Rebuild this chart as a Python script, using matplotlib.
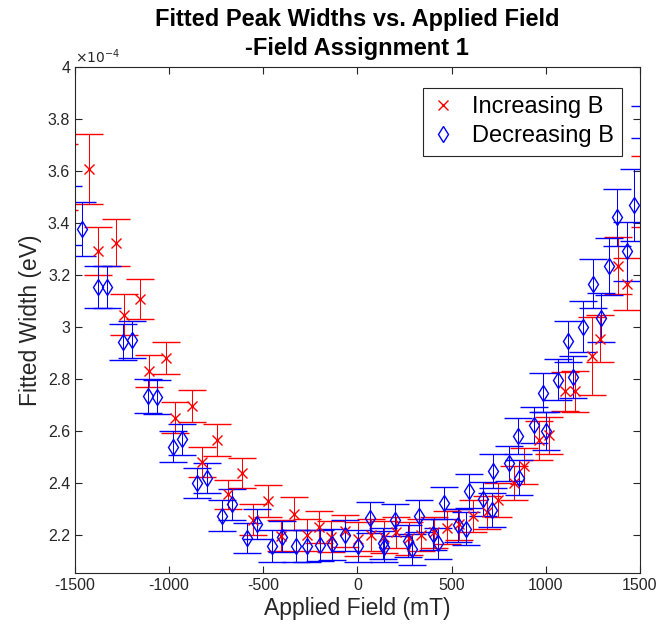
import matplotlib
matplotlib.use("Agg")
import matplotlib.pyplot as plt
from matplotlib.lines import Line2D
from matplotlib.ticker import FuncFormatter

plt.rcParams['font.family'] = ['Liberation Sans', 'DejaVu Sans']
plt.rcParams['axes.unicode_minus'] = False

# Increasing B  (widths in units of 1e-4 eV)
inc_field = [-1557, -1424, -1380, -1284, -1238, -1155, -1106, -1017, -969, -877,
             -827, -744, -686, -612, -553, -477, -406, -337, -270, -203,
             -139, -64, 4, 70, 141, 204, 275, 337, 406, 474,
             540, 615, 689, 748, 833, 884, 966, 1019, 1102, 1155,
             1244, 1288, 1382, 1430, 1530]
inc_width = [3.578, 3.609, 3.291, 3.325, 3.047, 3.108, 2.829, 2.881, 2.650, 2.695,
             2.479, 2.563, 2.355, 2.438, 2.258, 2.329, 2.196, 2.281, 2.197, 2.229,
             2.192, 2.214, 2.182, 2.197, 2.192, 2.208, 2.185, 2.197, 2.208, 2.227,
             2.240, 2.272, 2.285, 2.333, 2.400, 2.464, 2.564, 2.582, 2.752, 2.752,
             2.887, 2.954, 3.236, 3.167, 3.520]
inc_err = [0.127, 0.136, 0.092, 0.090, 0.078, 0.077, 0.062, 0.062, 0.060, 0.060,
           0.058, 0.062, 0.055, 0.058, 0.058, 0.062, 0.060, 0.064, 0.062, 0.062,
           0.060, 0.062, 0.065, 0.062, 0.062, 0.060, 0.062, 0.062, 0.060, 0.062,
           0.060, 0.062, 0.062, 0.065, 0.065, 0.070, 0.075, 0.070, 0.075, 0.080,
           0.150, 0.090, 0.110, 0.100, 0.137]

# Decreasing B
dec_field = [-1535, -1465, -1376, -1329, -1244, -1196, -1111, -1063, -978, -934,
             -854, -801, -721, -668, -588, -535, -456, -403, -327, -267,
             -199, -137, -64, 1, 66, 134, 142, 199, 270, 288,
             327, 403, 429, 461, 536, 576, 590, 668, 716, 721,
             805, 858, 854, 937, 1001, 983, 1063, 1143, 1116, 1199,
             1249, 1292, 1336, 1377, 1430, 1470, 1530]
dec_width = [3.430, 3.378, 3.154, 3.154, 2.941, 2.951, 2.733, 2.729, 2.538, 2.567,
             2.400, 2.419, 2.272, 2.317, 2.188, 2.240, 2.156, 2.192, 2.156, 2.156,
             2.159, 2.163, 2.197, 2.156, 2.265, 2.167, 2.154, 2.256, 2.175, 2.143,
             2.272, 2.201, 2.167, 2.323, 2.235, 2.223, 2.367, 2.338, 2.296, 2.446,
             2.474, 2.419, 2.580, 2.622, 2.599, 2.746, 2.797, 2.806, 2.944, 3.000,
             3.167, 3.035, 3.233, 3.423, 3.291, 3.470, 3.790]
dec_err = [0.113, 0.104, 0.080, 0.080, 0.070, 0.070, 0.065, 0.065, 0.060, 0.060,
           0.058, 0.058, 0.060, 0.060, 0.058, 0.058, 0.060, 0.060, 0.060, 0.060,
           0.060, 0.060, 0.060, 0.062, 0.060, 0.060, 0.060, 0.062, 0.060, 0.060,
           0.062, 0.060, 0.060, 0.062, 0.062, 0.062, 0.065, 0.065, 0.065, 0.065,
           0.068, 0.068, 0.070, 0.070, 0.072, 0.075, 0.078, 0.080, 0.080, 0.098,
           0.095, 0.095, 0.110, 0.110, 0.115, 0.138, 0.061]

fig = plt.figure(figsize=(6.61, 6.32), dpi=100)
ax = fig.add_axes([0.1135, 0.0938, 0.8545, 0.7997])

ax.errorbar(inc_field, inc_width, yerr=inc_err, fmt='x', color='red',
            markersize=7, markeredgewidth=1.0, elinewidth=0.75, capsize=10,
            capthick=0.75)
ax.errorbar(dec_field, dec_width, yerr=dec_err, fmt='d', color='blue',
            markerfacecolor='none', markersize=8.5, markeredgewidth=1.0,
            elinewidth=0.75, capsize=10, capthick=0.75)

ax.set_xlim(-1500, 1500)
ax.set_ylim(2.053, 4.0)
ax.set_xticks([-1500, -1000, -500, 0, 500, 1000, 1500])
ax.set_yticks([2.2, 2.4, 2.6, 2.8, 3.0, 3.2, 3.4, 3.6, 3.8, 4.0])
ax.yaxis.set_major_formatter(FuncFormatter(lambda v, p: '%g' % round(v, 2)))
ax.tick_params(direction='in', top=True, right=True, length=5, width=0.8,
               labelsize=11.5, colors='#262626')
for s in ax.spines.values():
    s.set_color('#262626')
    s.set_linewidth(0.8)

ax.text(0.0, 1.003, r'$\times10^{-4}$', transform=ax.transAxes, fontsize=10,
        color='#262626', ha='left', va='bottom')

ax.set_xlabel('Applied Field (mT)', fontsize=16.5, color='#262626', labelpad=3)
ax.set_ylabel('Fitted Width (eV)', fontsize=16.5, color='#262626', labelpad=4)
ax.set_title('Fitted Peak Widths vs. Applied Field\n-Field Assignment 1',
             fontsize=17, fontweight='bold', pad=9, linespacing=1.3)

handles = [Line2D([], [], linestyle='none', marker='x', color='red',
                  markersize=7, markeredgewidth=1.0),
           Line2D([], [], linestyle='none', marker='d', color='blue',
                  markerfacecolor='none', markersize=8.5, markeredgewidth=1.0)]
leg = ax.legend(handles, ['Increasing B', 'Decreasing B'], loc='upper right',
                bbox_to_anchor=(0.968, 0.959), borderaxespad=0, fontsize=17,
                fancybox=False, framealpha=1, edgecolor='#262626',
                handlelength=1.0, borderpad=0.35, labelspacing=0.3,
                handletextpad=0.7)
leg.get_frame().set_linewidth(0.8)

fig.savefig('out.png', dpi=100)
